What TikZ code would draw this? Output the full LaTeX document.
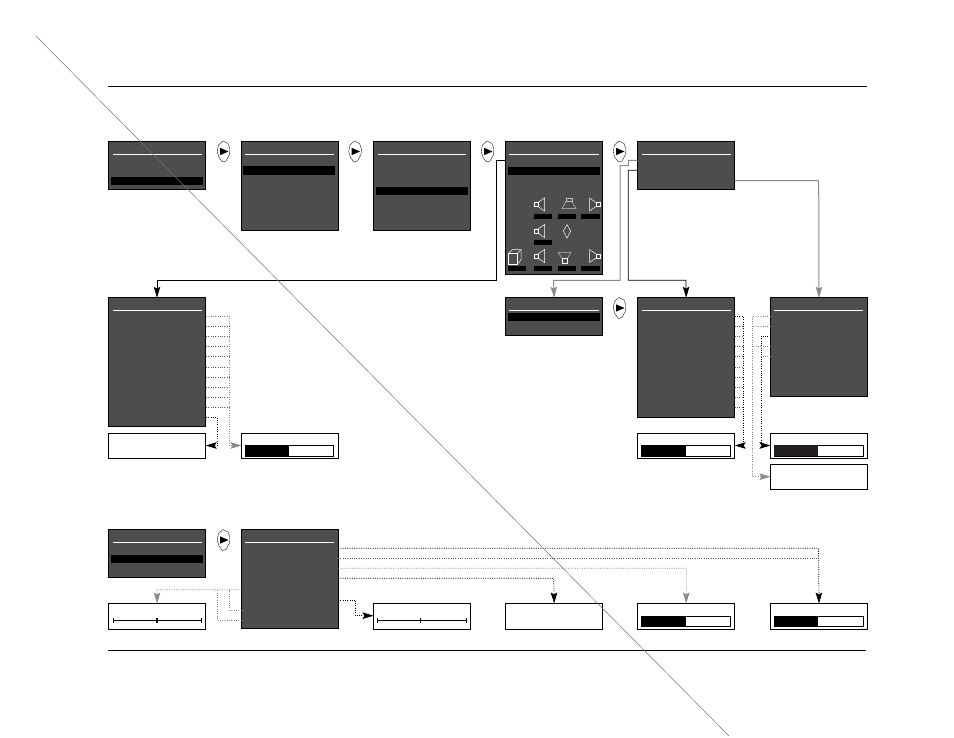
\documentclass[tikz,border=0pt]{standalone}
\usetikzlibrary{arrows.meta}
\definecolor{screengray}{HTML}{4D4D4D}
\definecolor{linkgray}{HTML}{8A8A8A}
\definecolor{bargray}{HTML}{231F20}
\tikzset{
  screen/.style={draw=black,fill=screengray,line width=1pt,anchor=north west,inner sep=0pt,outer sep=0pt,minimum width=97pt},
  readout/.style={draw=black,fill=white,line width=.9pt,anchor=north west,inner sep=0pt,outer sep=0pt,minimum width=97pt,minimum height=25.5pt},
  titlerule/.style={draw=white,line width=.7pt},
  selbar/.style={fill=black},
  levelbox/.style={draw=black,fill=white,line width=.8pt},
  tickline/.style={draw=black,line width=1.2pt},
  link/.style={draw=black,line width=.7pt,-{Stealth[length=11pt,width=6.5pt,inset=2pt]}},
  linkgrey/.style={draw=linkgray,line width=1pt,-{Stealth[length=11pt,width=6.5pt,inset=2pt]}},
  dotlink/.style={draw=black,line width=.7pt,dash pattern=on 1pt off 1.3pt,-{Stealth[length=11pt,width=6.5pt,inset=2pt]}},
  dotgrey/.style={draw=linkgray,line width=.8pt,dash pattern=on 1pt off 1.3pt,-{Stealth[length=11pt,width=6.5pt,inset=2pt]}},
  stubdark/.style={draw=black!65,line width=.7pt,dash pattern=on 1pt off 1.3pt},
  stubgrey/.style={draw=linkgray,line width=.8pt,dash pattern=on 1pt off 1.3pt},
  horn/.style={draw=white,line width=.5pt},
  horngrey/.style={draw=black!25,line width=.5pt},
  nextkey/.pic={
    \draw[black,line width=.35pt] (-.5,-10.5) -- (4.5,-8) -- (6.5,-2.5) -- (6,3) -- (2.5,9.5) -- (-1,10.5) -- (-4.5,6) -- (-6.3,0) -- (-5,-6.5) -- cycle;
    \fill[black] (-3.5,-3.7) -- (5,0) -- (-3.5,3.7) -- cycle;
  },
  spkleft/.pic={
    \draw[horn] (-5.5,-2) rectangle (-2,2);
    \draw[horn] (-2,-2) -- (4.5,-6.5) -- (4.5,6.5) -- (-2,2);
  },
  spkright/.pic={
    \draw[horn] (6,-2) rectangle (10,2);
    \draw[horn] (6,-2) -- (-.5,-6.5) -- (-.5,6.5) -- (6,2);
  }
}
\begin{document}
\begin{tikzpicture}[x=1pt,y=-1pt]
  \useasboundingbox (0,0) rectangle (954,737);
  % page rules
  \coordinate (ruleTL) at (108,86);
  \coordinate (ruleTR) at (867,86);
  \coordinate (ruleBL) at (108,650.5);
  \coordinate (ruleBR) at (866,650.5);
  \draw[line width=.7pt] (ruleTL) -- (ruleTR);
  \draw[line width=.7pt] (ruleBL) -- (ruleBR);

  % top row
  \node[screen,minimum height=48pt] (setupA) at (108.7,141.7) {};
  \node[screen,minimum height=89pt] (setupB) at (241.5,141.7) {};
  \node[screen,minimum height=89pt] (setupC) at (373.7,141.7) {};
  \node[screen,minimum height=133pt] (setupD) at (505.7,141.7) {};
  \node[screen,minimum height=48pt] (setupE) at (637.7,141.7) {};
  \draw[titlerule] (113,154.3) -- (202,154.3);
  \draw[titlerule] (245,154.3) -- (334,154.3);
  \draw[titlerule] (377.5,154.3) -- (466,154.3);
  \draw[titlerule] (509,154.3) -- (599,154.3);
  \draw[titlerule] (642,154.3) -- (731,154.3);
  \fill[selbar] (111,177) rectangle (203,185);
  \fill[selbar] (243,166) rectangle (335,175);
  \fill[selbar] (376,187) rectangle (468,195);
  \fill[selbar] (508,167) rectangle (600,175);
  \pic at (223.5,151.5) {nextkey};
  \pic at (355,151.5) {nextkey};
  \pic at (487.5,151.5) {nextkey};
  \pic at (619.5,151.5) {nextkey};

  % speaker layout
  \pic at (540,204.5) {spkleft};
  \pic at (590,204.5) {spkright};
  \pic at (540,231) {spkleft};
  \pic at (540,256) {spkleft};
  \pic at (590,256) {spkright};
  \draw[horngrey] (566,198.3) rectangle (572,201.3);
  \draw[horngrey] (566,201.3) -- (562,208.7) -- (576,208.7) -- (572,201.3);
  \draw[horngrey] (558,252.3) -- (571,252.3) -- (567.3,258.7) -- (562.3,258.7) -- cycle;
  \draw[horn] (562.3,258.7) rectangle (567.3,263);
  \draw[horn] (567,224.7) -- (570.7,231) -- (567,238) -- (563.3,231) -- cycle;
  \draw[horn,line width=.7pt] (508.5,253.5) rectangle (517.5,264);
  \draw[horn] (508.5,253.5) -- (512.5,249.5) -- (521,249.5) -- (517.5,253.5);
  \draw[horn] (521,249.5) -- (521,260) -- (517.5,264);
  \fill[selbar] (534,214) rectangle (552,219);
  \fill[selbar] (558,214) rectangle (576,219);
  \fill[selbar] (581,214) rectangle (600,219);
  \fill[selbar] (534,240) rectangle (552,245);
  \fill[selbar] (508,266) rectangle (526,271);
  \fill[selbar] (534,266) rectangle (552,271);
  \fill[selbar] (558,266) rectangle (576,271);
  \fill[selbar] (581,266) rectangle (600,271);

  % middle row
  \node[screen,line width=1.4pt,minimum height=129pt] (speakerL) at (108.7,297.7) {};
  \node[screen,minimum height=38pt] (pickM) at (505.7,297.7) {};
  \node[screen,line width=1.4pt,minimum height=119.5pt] (speakerR) at (637.7,297.7) {};
  \node[screen,minimum height=99pt] (extraR) at (770.5,297.7) {};
  \draw[titlerule] (113,310.3) -- (202,310.3);
  \draw[titlerule] (509,310.3) -- (599,310.3);
  \draw[titlerule] (642,310.3) -- (731,310.3);
  \draw[titlerule] (774,310.3) -- (863,310.3);
  \fill[selbar] (508,313) rectangle (600,321);
  \pic at (619.5,308) {nextkey};

  \node[readout] (nameL) at (108.7,433) {};
  \node[readout] (levelL) at (241.5,433) {};
  \node[readout] (levelR) at (637.7,433) {};
  \node[readout] (levelX) at (770.5,433) {};
  \node[readout,minimum height=25pt] (nameX) at (770.5,464.5) {};
  \draw[levelbox] (245,445) rectangle (333.7,456.3);
  \fill[black] (245,445) rectangle (289,456.3);
  \draw[levelbox] (641,445) rectangle (730.7,456.3);
  \fill[black] (641,445) rectangle (686,456.3);
  \draw[levelbox] (774,445) rectangle (863.7,456.3);
  \fill[bargray] (774,445) rectangle (818,456.3);

  % bottom row
  \node[screen,minimum height=48pt] (toneA) at (108.7,529.7) {};
  \node[screen,line width=1.2pt,minimum height=98.5pt] (toneB) at (241.5,529.7) {};
  \draw[titlerule] (113,542.3) -- (202,542.3);
  \draw[titlerule] (245,542.3) -- (334,542.3);
  \fill[selbar] (111,555) rectangle (203,563);
  \pic at (223.5,540) {nextkey};

  \node[readout] (bassS) at (108.7,603.5) {};
  \node[readout] (trebS) at (373.5,603.5) {};
  \node[readout] (nameB) at (505.7,603.5) {};
  \node[readout] (levelB) at (637.7,603.5) {};
  \node[readout] (levelC) at (770.5,603.5) {};
  \draw[tickline] (113.5,620.5) -- (201.5,620.5);
  \draw[line width=.7pt] (113.5,618) -- (113.5,623);
  \draw[line width=.7pt] (201.5,618) -- (201.5,623);
  \draw[line width=1.4pt] (157,618) -- (157,623);
  \draw[tickline] (377.5,620.5) -- (466.5,620.5);
  \draw[line width=.7pt] (377.5,618) -- (377.5,623);
  \draw[line width=.7pt] (466.5,618) -- (466.5,623);
  \draw[line width=1.4pt] (420.5,618) -- (420.5,623);
  \draw[levelbox] (641,616.3) rectangle (730.7,626.7);
  \fill[black] (641,616.3) rectangle (686,626.7);
  \draw[levelbox] (774,616.3) rectangle (863.7,626.7);
  \fill[black] (774,616.3) rectangle (818,626.7);

  % solid links
  \coordinate (dOut) at (505.7,160.3);
  \coordinate (eGrey) at (637.7,160.3);
  \coordinate (eDark) at (637.7,170.3);
  \coordinate (eOut) at (734.7,180.5);
  \draw[link] (dOut) -- (496.3,160.3) -- (496.3,280.3) -- (157,280.3) -- (speakerL.north -| 157,297);
  \draw[linkgrey] (eGrey) -- (628.3,160.3) -- (628.3,165.7) -- (620,165.7) -- (620,280.3) -- (553.5,280.3) -- (pickM.north);
  \draw[link] (eDark) -- (628.3,170.3) -- (628.3,280.3) -- (686,280.3) -- (speakerR.north);
  \draw[linkgrey,rounded corners=1pt] (eOut) -- (818.7,180.5) -- (extraR.north);

  % dotted links, left panel
  \coordinate (lA) at (206,316.3);
  \coordinate (lB) at (206,326.3);
  \coordinate (lC) at (206,336.3);
  \coordinate (lD) at (206,346.7);
  \coordinate (lE) at (206,356.7);
  \coordinate (lF) at (206,367);
  \coordinate (lG) at (206,377);
  \coordinate (lH) at (206,387.3);
  \coordinate (lI) at (206,397.3);
  \coordinate (lJ) at (206,407.3);
  \coordinate (lK) at (206,417.3);
  \draw[stubdark] (lB) -- (229.3,326.3);
  \draw[stubdark] (lC) -- (229.3,336.3);
  \draw[stubdark] (lD) -- (229.3,346.7);
  \draw[stubdark] (lE) -- (229.3,356.7);
  \draw[stubdark] (lF) -- (229.3,367);
  \draw[stubdark] (lG) -- (229.3,377);
  \draw[stubdark] (lH) -- (229.3,387.3);
  \draw[stubdark] (lI) -- (229.3,397.3);
  \draw[stubdark] (lJ) -- (229.3,407.3);
  \draw[dotgrey] (lA) -- (229.3,316.3) -- (229.3,445.5) -- (levelL.west |- 0,445.5);
  \draw[dotlink] (lK) -- (217.3,417.3) -- (217.3,445.5) -- (nameL.east |- 0,445.5);

  % dotted links, right panels
  \coordinate (rA) at (734.7,316.3);
  \coordinate (rB) at (734.7,326.3);
  \coordinate (rC) at (734.7,336.3);
  \coordinate (rD) at (734.7,346.7);
  \coordinate (rE) at (734.7,356.7);
  \coordinate (rF) at (734.7,367);
  \coordinate (rG) at (734.7,377);
  \coordinate (rH) at (734.7,387.3);
  \coordinate (rI) at (734.7,397.3);
  \coordinate (rJ) at (734.7,407.3);
  \draw[stubdark] (rB) -- (743.3,326.3);
  \draw[stubdark] (rC) -- (743.3,336.3);
  \draw[stubdark] (rD) -- (743.3,346.7);
  \draw[stubdark] (rE) -- (743.3,356.7);
  \draw[stubdark] (rF) -- (743.3,367);
  \draw[stubdark] (rG) -- (743.3,377);
  \draw[stubdark] (rH) -- (743.3,387.3);
  \draw[stubdark] (rI) -- (743.3,397.3);
  \draw[stubdark] (rJ) -- (743.3,407.3);
  \draw[dotlink] (rA) -- (743.3,316.3) -- (743.3,445.5) -- (levelR.east |- 0,445.5);
  \coordinate (xA) at (770.5,316.3);
  \coordinate (xB) at (770.5,326.3);
  \coordinate (xC) at (770.5,336.3);
  \coordinate (xD) at (770.5,346.7);
  \coordinate (xE) at (770.5,356.7);
  \draw[stubgrey] (xB) -- (752.3,326.3);
  \draw[stubgrey] (xD) -- (752.3,346.7);
  \draw[stubgrey] (xE) -- (761,356.7);
  \draw[dotgrey] (xA) -- (752.3,316.3) -- (752.3,476.7) -- (nameX.west |- 0,476.7);
  \draw[dotlink] (xC) -- (761,336.3) -- (761,445.5) -- (levelX.west |- 0,445.5);

  % dotted links, bottom panel
  \coordinate (tA) at (338,548.3);
  \coordinate (tB) at (338,558.3);
  \coordinate (tC) at (338,568.3);
  \coordinate (tD) at (338,578.3);
  \coordinate (tE) at (338,600);
  \coordinate (tF) at (241.5,589.7);
  \coordinate (tG) at (241.5,610);
  \coordinate (tH) at (241.5,620);
  \draw[stubdark] (tB) -- (818.5,558.3);
  \draw[dotlink] (tA) -- (818.5,548.3) -- (levelC.north);
  \draw[dotgrey] (tC) -- (686.3,568.3) -- (levelB.north);
  \draw[dotlink] (tD) -- (553.7,578.3) -- (nameB.north);
  \draw[dotlink] (tE) -- (355.7,600) -- (355.7,615.7) -- (trebS.west |- 0,615.7);
  \draw[dotgrey] (tF) -- (157,589.7) -- (bassS.north);
  \draw[stubgrey] (tG) -- (229.3,610) -- (229.3,589.7);
  \draw[stubgrey] (tH) -- (217.3,620) -- (217.3,589.7);

  % long diagonal across the page
  \coordinate (slashA) at (36,36);
  \coordinate (slashB) at (729,736);
  \draw[line width=.5pt,black!55] (slashA) -- (slashB);
\end{tikzpicture}
\end{document}
